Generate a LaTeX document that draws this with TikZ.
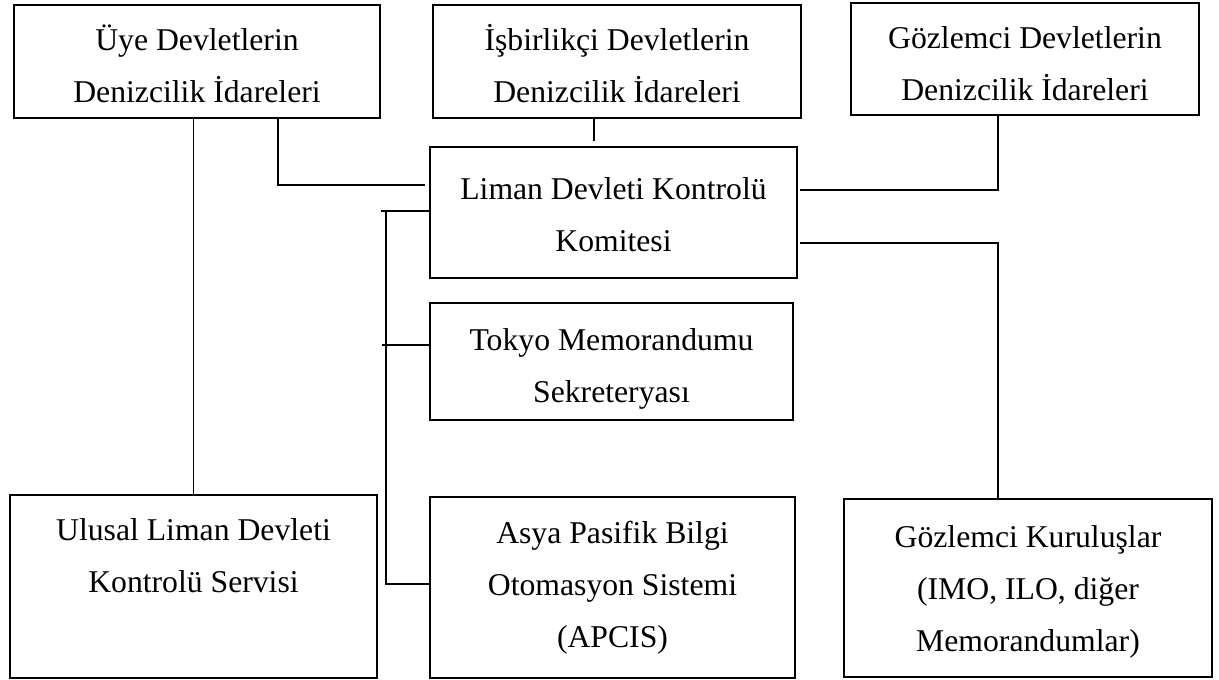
\documentclass[tikz,border=0pt]{standalone}
\usepackage{fontspec}
\setmainfont{Liberation Serif}
\usepackage{tikz}
\usetikzlibrary{calc}

\newcommand{\kutumetin}[4]{\parbox[c][#2pt][t]{#1pt}{\parindent=0pt\centering\vspace*{#3pt}\strut #4\par}}

\begin{document}
\begin{tikzpicture}[x=1pt,y=-1pt,
	kutu/.style={draw, line width=1.6pt, inner sep=0pt, font=\fontsize{31.7}{52}\selectfont},
	hat/.style={line width=1.5pt}]
	
	\useasboundingbox (0,0) rectangle (1219,680);
	
	\node[kutu] (uye) at (197,61.5) {\kutumetin{366}{113}{8.6}{Üye Devletlerin\\Denizcilik İdareleri}};
	\node[kutu] (isbirlik) at (617,61.5) {\kutumetin{368}{113}{8.6}{İşbirlikçi Devletlerin\\Denizcilik İdareleri}};
	\node[kutu] (gozlem) at (1025,59) {\kutumetin{348}{112}{9.6}{Gözlemci Devletlerin\\Denizcilik İdareleri}};
	\node[kutu] (komite) at (613.5,212.5) {\kutumetin{367}{131}{15.6}{Liman Devleti Kontrolü\\Komitesi}};
	\node[kutu] (sekret) at (611.5,361.5) {\kutumetin{363}{117}{10.6}{Tokyo Memorandumu\\Sekreteryası}};
	\node[kutu] (ulusal) at (193.5,586.5) {\kutumetin{367}{183}{8.6}{Ulusal Liman Devleti\\Kontrolü Servisi}};
	\node[kutu] (apcis) at (612.5,587.5) {\kutumetin{365}{181}{9.6}{Asya Pasifik Bilgi\\Otomasyon Sistemi\\(APCIS)}};
	\node[kutu] (kurulus) at (1028,588) {\kutumetin{368}{178}{11.6}{Gözlemci Kuruluşlar\\(IMO, ILO, diğer\\Memorandumlar)}};
	
	\coordinate (k1) at (278,185);
	\coordinate (k2) at (594,130);
	\coordinate (k3) at (998,190);
	\coordinate (k4) at (998,243);
	\coordinate (b1) at (386,211);
	\coordinate (b2) at (386,345);
	\coordinate (b3) at (386,584);
	
	\draw[hat] (uye.south -| ulusal.north) -- (ulusal.north);
	\draw[hat] (uye.south -| k1) -- (k1) -- ($(k1 -| komite.west)+(-4,0)$);
	\draw[hat] (isbirlik.south -| k2) -- ($(komite.north -| k2)+(0,-5)$);
	\draw[hat] ($(komite.east |- k3)+(2,0)$) -- (k3) -- (gozlem.south -| k3);
	\draw[hat] ($(komite.east |- k4)+(2,0)$) -- (k4) -- (kurulus.north -| k4);
	\draw[hat] ($(b1)+(-5,0)$) -- (b1 -| komite.west);
	\draw[hat] (b1) -- (b3) -- (b3 -| apcis.west);
	\draw[hat] ($(b2)+(-4,0)$) -- (b2 -| sekret.west);
	
\end{tikzpicture}
\end{document}
